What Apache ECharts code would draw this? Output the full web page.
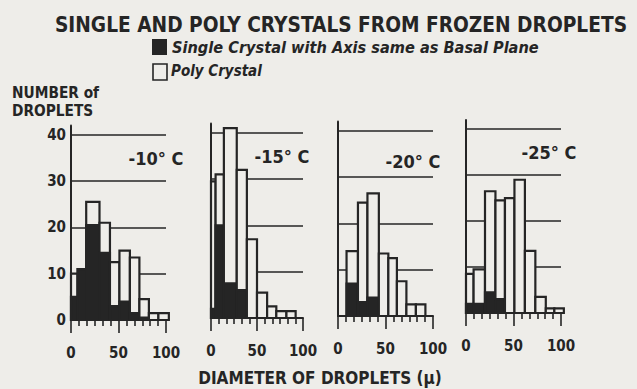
<!DOCTYPE html>
<html><head><meta charset="utf-8">
<script src="https://cdn.jsdelivr.net/npm/echarts@6/dist/echarts.min.js"></script>
<style>html,body{margin:0;padding:0;background:#eeede9;}#c{width:637px;height:389px;}</style>
</head><body><div id="c"></div>
<script>
// ---- data ----
const temps = ['-10° C', '-15° C', '-20° C', '-25° C'];
const edges10 = [0, 7, 16, 30, 41, 51, 62, 72, 82, 92, 103];
const total10 = [10, 11, 25.5, 21, 12.5, 15, 13.5, 4.5, 1.5, 1.5];
const single10 = [5, 11, 20.5, 14.5, 3, 4, 1.5, 0.5, 0, 0];
const edges15 = [0, 5, 14, 28, 39, 50, 61, 71, 82, 92];
const total15 = [29.5, 31, 41, 32, 17, 5.5, 2.5, 1.5, 1.5];
const single15 = [2, 20, 7.5, 6, 0, 0, 0, 0, 0];
const edges20 = [9, 21, 31, 43, 53, 62, 72, 82, 92];
const total20 = [14, 24.5, 26.5, 13.5, 12.5, 7.5, 2.5, 2.5];
const single20 = [7, 3, 4, 0, 0, 0, 0, 0];
const edges25 = [0, 8, 20, 31, 41, 51, 62, 73, 84, 93, 103];
const total25 = [8.5, 9.5, 26.5, 24.5, 25, 29, 13.5, 3.5, 1, 1];
const single25 = [2, 2, 4.5, 3, 0, 0, 0, 0, 0, 0];
const yTickLabels = [0, 10, 20, 30, 40];
const xTickLabels = [0, 50, 100];
const titleText = 'SINGLE AND POLY CRYSTALS FROM FROZEN DROPLETS';
const legendSingle = 'Single Crystal with Axis same as Basal Plane';
const legendPoly = 'Poly Crystal';
const yTitle = ['NUMBER of', 'DROPLETS'];
const xTitle = 'DIAMETER OF DROPLETS (\u03BC)';

// ---- layout ----
const INK = '#252525', BG = '#eeede9';
const FONT = "'Liberation Sans Narrow','DejaVu Sans Condensed','Liberation Sans',sans-serif";
const panels = [
  {edges: edges10, total: total10, single: single10},
  {edges: edges15, total: total15, single: single15},
  {edges: edges20, total: total20, single: single20},
  {edges: edges25, total: total25, single: single25}
];
const grids = [
  {left: 71, top: 125.5, width: 95, height: 194.5},
  {left: 211, top: 123.5, width: 92, height: 194.5},
  {left: 338, top: 121.5, width: 95, height: 194.5},
  {left: 466, top: 120, width: 95, height: 193}
];
const tempPos = [[156, 158], [282, 156], [413, 161], [549, 152]];
const YMAX = 42;

function renderBar(params, api) {
  const x0 = api.value(0), x1 = api.value(1), tot = api.value(2), sgl = api.value(3);
  const a = api.coord([x0, 0]), b = api.coord([x1, tot]), s = api.coord([x1, sgl]);
  const children = [{
    type: 'rect',
    shape: {x: a[0], y: b[1], width: b[0] - a[0], height: a[1] - b[1]},
    style: {fill: BG, stroke: INK, lineWidth: 2.2}
  }];
  if (sgl > 0) {
    children.push({
      type: 'rect',
      shape: {x: a[0], y: s[1], width: b[0] - a[0], height: a[1] - s[1]},
      style: {fill: INK, stroke: INK, lineWidth: 2.2}
    });
  }
  return {type: 'group', children};
}

const xAxes = [], yAxes = [], series = [];
panels.forEach((p, i) => {
  xAxes.push({
    type: 'value', gridIndex: i, min: 0, max: 100, interval: 50,
    axisLine: {show: true, onZero: false, lineStyle: {color: INK, width: 2}},
    axisTick: {show: true, length: 13, lineStyle: {color: INK, width: 1.6}},
    minorTick: {show: true, splitNumber: 6, length: 6, lineStyle: {color: INK, width: 1.6}},
    axisLabel: {show: true, margin: 25, color: INK, fontFamily: FONT, fontWeight: 'bold', fontSize: 15},
    splitLine: {show: false},
    minorSplitLine: {show: false}
  });
  yAxes.push({
    type: 'value', gridIndex: i, min: 0, max: YMAX, interval: 10,
    axisLine: {show: true, onZero: false, lineStyle: {color: INK, width: 2}},
    axisTick: {show: false},
    axisLabel: i === 0 ? {show: true, customValues: yTickLabels, margin: 5, color: INK, fontFamily: FONT, fontWeight: 'bold', fontSize: 15} : {show: false},
    splitLine: {show: true, showMaxLine: false, lineStyle: {color: INK, width: 1.6}}
  });
  series.push({
    type: 'custom', xAxisIndex: i, yAxisIndex: i, renderItem: renderBar, clip: false, z: 5,
    data: p.total.map((t, k) => [p.edges[k], p.edges[k + 1], t, p.single[k]])
  });
});

const tsb = {fill: INK, fontFamily: FONT, fontWeight: 'bold'};
const graphics = [
  {type: 'text', x: 341, y: 25, style: Object.assign({}, tsb, {text: titleText, fontSize: 20.7, textAlign: 'center', textVerticalAlign: 'middle'})},
  {type: 'rect', shape: {x: 152, y: 39, width: 15, height: 16}, style: {fill: INK}},
  {type: 'text', x: 172, y: 47, style: Object.assign({}, tsb, {text: legendSingle, fontSize: 16.2, fontStyle: 'italic', textVerticalAlign: 'middle'})},
  {type: 'rect', shape: {x: 153, y: 64, width: 14, height: 16}, style: {fill: 'none', stroke: INK, lineWidth: 1.6}},
  {type: 'text', x: 171, y: 71, style: Object.assign({}, tsb, {text: legendPoly, fontSize: 15, fontStyle: 'italic', textVerticalAlign: 'middle'})},
  {type: 'text', x: 12, y: 93, style: Object.assign({}, tsb, {text: yTitle[0], fontSize: 15.3, textVerticalAlign: 'middle'})},
  {type: 'text', x: 12, y: 111, style: Object.assign({}, tsb, {text: yTitle[1], fontSize: 15.3, textVerticalAlign: 'middle'})},
  {type: 'text', x: 320, y: 378, style: Object.assign({}, tsb, {text: xTitle, fontSize: 17, textAlign: 'center', textVerticalAlign: 'middle'})}
];
temps.forEach((t, i) => {
  graphics.push({type: 'text', x: tempPos[i][0], y: tempPos[i][1], style: Object.assign({}, tsb, {text: t, fontSize: 18, textAlign: 'center', textVerticalAlign: 'middle'})});
});

const chart = echarts.init(document.getElementById('c'), null, {renderer: 'svg'});
chart.setOption({
  backgroundColor: BG,
  animation: false,
  grid: grids.map(g => Object.assign({containLabel: false}, g)),
  xAxis: xAxes,
  yAxis: yAxes,
  series: series,
  graphic: graphics
});
</script></body></html>
